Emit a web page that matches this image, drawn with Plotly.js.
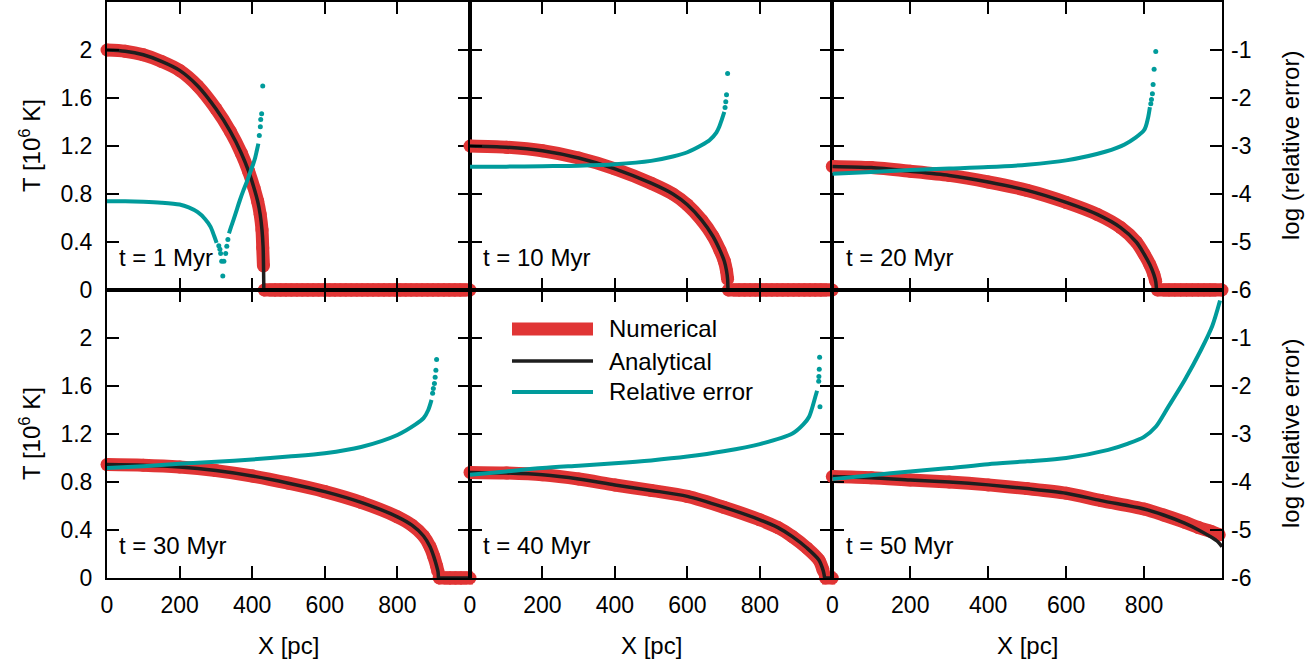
<!DOCTYPE html>
<html><head><meta charset="utf-8">
<script src="https://cdn.plot.ly/plotly-3.0.1.min.js"></script>
<style>html,body{margin:0;padding:0;background:#fff}#chart{width:1315px;height:666px}</style>
</head><body><div id="chart"></div>
<script>
// ---------------- data ----------------
const timeLabels = ['t = 1 Myr','t = 10 Myr','t = 20 Myr','t = 30 Myr','t = 40 Myr','t = 50 Myr'];
const xTicks = [0,200,400,600,800];
const tTicks = [0,0.4,0.8,1.2,1.6,2];
const tTickText = ['0','0.4','0.8','1.2','1.6','2'];
const eTicks = [-6,-5,-4,-3,-2,-1];

// panel 1 : t = 1 Myr   (null separates the profile from the flat floor)
const xA1 = [0,50,100,150,200,250,300,340,370,390,405,415,422,427,430,432,null,432,1000];
const tA1 = [2.00,1.99,1.96,1.905,1.83,1.70,1.51,1.32,1.14,0.99,0.85,0.74,0.63,0.50,0.36,0,null,0,0];
const xN1 = [0,50,100,150,200,250,300,340,370,390,405,415,422,427,429,431,null,433,448,463,478,493,508,523,538,553,568,583,598,613,628,643,658,673,688,703,718,733,748,763,778,793,808,823,838,853,868,883,898,913,928,943,958,973,988,1000];
const tN1 = [2.00,1.99,1.96,1.905,1.83,1.70,1.51,1.32,1.14,0.99,0.85,0.74,0.63,0.50,0.35,0.20,null,0,0,0,0,0,0,0,0,0,0,0,0,0,0,0,0,0,0,0,0,0,0,0,0,0,0,0,0,0,0,0,0,0,0,0,0,0,0,0];
const xE1 = [0,50,100,150,200,225,250,270,285,295,302,null,336,342,348,357,366,375,385,394,403,408,412,417];
const eE1 = [-4.15,-4.15,-4.16,-4.18,-4.22,-4.28,-4.38,-4.52,-4.68,-4.87,-5.02,null,-4.82,-4.68,-4.55,-4.34,-4.13,-3.94,-3.75,-3.56,-3.37,-3.25,-3.12,-2.95];
const xD1 = [308,311,313,316,319,322,327,330,333,419.6,422.4,423.5,426,429];
const eD1 = [-5.08,-5.15,-5.24,-5.40,-5.71,-5.40,-5.24,-5.09,-4.95,-2.78,-2.60,-2.45,-2.33,-1.75];

// panel 2 : t = 10 Myr
const xA2 = [0,100,200,300,400,500,560,600,640,670,690,702,708,711,712,null,712,1000];
const tA2 = [1.20,1.19,1.16,1.10,1.01,0.89,0.80,0.71,0.58,0.45,0.33,0.24,0.16,0.09,0,null,0,0];
const xN2 = [0,100,200,300,400,500,560,600,640,670,690,702,708,711,null,713,728,743,758,773,788,803,818,833,848,863,878,893,908,923,938,953,968,983,1000];
const tN2 = [1.20,1.19,1.16,1.10,1.01,0.89,0.80,0.71,0.58,0.45,0.33,0.24,0.16,0.09,null,0,0,0,0,0,0,0,0,0,0,0,0,0,0,0,0,0,0,0,0];
const xE2 = [0,100,200,300,400,500,560,600,640,661,680,688,695,702];
const eE2 = [-3.43,-3.43,-3.42,-3.41,-3.38,-3.31,-3.22,-3.13,-2.98,-2.88,-2.72,-2.60,-2.45,-2.29];
const xD2 = [704,706,708,711];
const eD2 = [-2.20,-2.08,-1.93,-1.49];

// panel 3 : t = 20 Myr
const xA3 = [0,100,200,300,400,500,600,680,740,780,800,815,825,830,832,null,832,1000];
const tA3 = [1.03,1.02,0.99,0.955,0.90,0.83,0.73,0.63,0.52,0.40,0.30,0.21,0.13,0.07,0,null,0,0];
const xN3 = [0,100,200,300,400,500,600,680,740,780,800,815,825,830,null,834,849,864,879,894,909,924,939,954,969,984,1000];
const tN3 = [1.03,1.02,0.99,0.955,0.90,0.83,0.73,0.63,0.52,0.40,0.30,0.21,0.13,0.07,null,0,0,0,0,0,0,0,0,0,0,0,0];
const xE3 = [0,100,200,300,400,500,600,700,750,800,810,815];
const eE3 = [-3.58,-3.54,-3.50,-3.47,-3.44,-3.39,-3.30,-3.12,-2.97,-2.67,-2.42,-2.19];
const xD3 = [817.3,819,821.4,823.2,825.8,830];
const eD3 = [-2.12,-2.03,-1.91,-1.72,-1.40,-1.03];

// panel 4 : t = 30 Myr
const xA4 = [0,100,200,300,400,500,600,700,800,840,872,890,900,908,912,913,null,913,1000];
const tA4 = [0.945,0.94,0.925,0.895,0.85,0.79,0.72,0.63,0.51,0.44,0.35,0.26,0.18,0.10,0.05,0,null,0,0];
const xN4 = [0,100,200,300,400,500,600,700,800,840,872,890,900,908,912,null,915,930,945,960,975,990,1000];
const tN4 = [0.945,0.94,0.925,0.895,0.85,0.79,0.72,0.63,0.51,0.44,0.35,0.26,0.18,0.10,0.05,null,0,0,0,0,0,0,0];
const xE4 = [0,100,200,300,400,500,600,700,800,850,872,885,894];
const eE4 = [-3.71,-3.67,-3.62,-3.58,-3.53,-3.47,-3.40,-3.27,-3.02,-2.80,-2.67,-2.50,-2.29];
const xD4 = [897,899,902,904,906,908];
const eD4 = [-2.15,-2.05,-1.95,-1.82,-1.67,-1.45];

// panel 5 : t = 40 Myr
const xA5 = [0,100,200,300,400,500,600,700,800,850,890,930,963,975,979,null,979,1000];
const tA5 = [0.88,0.875,0.86,0.825,0.775,0.73,0.68,0.59,0.485,0.42,0.345,0.25,0.15,0.06,0,null,0,0];
const xN5 = [0,100,200,300,400,500,600,700,800,850,890,930,963,975,null,981,990,1000];
const tN5 = [0.88,0.875,0.86,0.825,0.775,0.73,0.68,0.59,0.485,0.42,0.345,0.25,0.15,0.06,null,0,0,0];
const xE5 = [0,100,200,300,400,500,600,700,800,890,920,936,953,958];
const eE5 = [-3.85,-3.78,-3.71,-3.66,-3.61,-3.55,-3.47,-3.36,-3.21,-2.99,-2.80,-2.64,-2.23,-2.10];
const xD5 = [962.5,963,964,965,966];
const eD5 = [-1.90,-1.80,-1.65,-1.40,-2.43];

// panel 6 : t = 50 Myr
const xA6 = [0,100,200,300,400,500,600,690,800,850,904,940,970,990,1000];
const tA6 = [0.845,0.835,0.817,0.80,0.776,0.745,0.707,0.645,0.575,0.525,0.457,0.40,0.345,0.30,0.26];
const xN6 = [0,100,200,300,400,500,600,690,800,850,904,940,970,993];
const tN6 = [0.845,0.835,0.817,0.80,0.776,0.745,0.707,0.645,0.575,0.525,0.465,0.42,0.39,0.36];
const xE6 = [0,100,200,300,400,500,600,708,759,800,830,861,904,946,975,995];
const eE6 = [-3.94,-3.86,-3.78,-3.71,-3.63,-3.57,-3.50,-3.33,-3.20,-3.06,-2.85,-2.45,-1.88,-1.25,-0.75,-0.22];
const xD6 = [];
const eD6 = [];

const legendNames = ['Numerical','Analytical','Relative error'];

// ---------------- drawing ----------------
const RED = '#e03535', BLACK = '#1e1e1e', TEAL = '#009b9b';
const FAM = '"Liberation Sans", Arial, Helvetica, sans-serif';
const W = 1315, H = 666;
const M = {l:107, r:93, t:2, b:88};
const PW = W - M.l - M.r, PH = H - M.t - M.b;
const px = v => (v - M.l) / PW;           // pixel -> paper x
const py = v => (H - M.b - v) / PH;        // pixel -> paper y

const panels = [
  {xA:xA1,tA:tA1,xN:xN1,tN:tN1,xE:xE1,eE:eE1,xD:xD1,eD:eD1},
  {xA:xA2,tA:tA2,xN:xN2,tN:tN2,xE:xE2,eE:eE2,xD:xD2,eD:eD2},
  {xA:xA3,tA:tA3,xN:xN3,tN:tN3,xE:xE3,eE:eE3,xD:xD3,eD:eD3},
  {xA:xA4,tA:tA4,xN:xN4,tN:tN4,xE:xE4,eE:eE4,xD:xD4,eD:eD4},
  {xA:xA5,tA:tA5,xN:xN5,tN:tN5,xE:xE5,eE:eE5,xD:xD5,eD:eD5},
  {xA:xA6,tA:tA6,xN:xN6,tN:tN6,xE:xE6,eE:eE6,xD:xD6,eD:eD6}
];

const colEdges = [107, 470, 832.3, 1222];
const rowEdges = [2, 290, 578];
const xDom = [[px(colEdges[0]),px(colEdges[1])],[px(colEdges[1]),px(colEdges[2])],[px(colEdges[2]),px(colEdges[3])]];
const yDom = [[py(rowEdges[1]),py(rowEdges[0])],[py(rowEdges[2]),py(rowEdges[1])]];

const tickFont = {family:FAM, size:23, color:'#000'};
const textFont = {family:FAM, size:24, color:'#000'};
const traces = [];
const layout = {
  width:W, height:H, margin:M, paper_bgcolor:'#fff', plot_bgcolor:'rgba(0,0,0,0)',
  showlegend:false, font:{family:FAM, size:23, color:'#000'},
  annotations:[], shapes:[]
};

// floor points (T = 0) between the front and the last cell are drawn as squares so the band stays flat
function floorSymbols(xs, ts) {
  return ts.map((t, k) => {
    if (t !== 0) return 'circle';
    const prevNull = k === 0 || ts[k-1] === null;
    const last = k === ts.length - 1;
    return (prevNull || last) ? 'circle' : 'square';
  });
}

panels.forEach((p,i) => {
  const n = i+1, row = i<3 ? 0 : 1, col = i%3;
  const xk = n===1 ? 'x' : 'x'+n, yk = n===1 ? 'y' : 'y'+n, ek = 'y'+(n+6);
  const common = {xaxis:xk, showlegend:false, hoverinfo:'skip'};
  traces.push(Object.assign({x:p.xN, y:p.tN, yaxis:yk, mode:'lines+markers', name:legendNames[0],
    line:{color:RED,width:13,shape:'spline',smoothing:0.8},
    marker:{color:RED,size:13,symbol:floorSymbols(p.xN,p.tN),line:{width:0}},
    cliponaxis:false, connectgaps:false}, common));
  traces.push(Object.assign({x:p.xA, y:p.tA, yaxis:yk, mode:'lines', name:legendNames[1],
    line:{color:BLACK,width:3.5,shape:'spline',smoothing:0.8}, connectgaps:false}, common));
  traces.push(Object.assign({x:p.xE, y:p.eE, yaxis:ek, mode:'lines', name:legendNames[2],
    line:{color:TEAL,width:4,shape:'spline',smoothing:0.8}, connectgaps:false}, common));
  if (p.xD.length) traces.push(Object.assign({x:p.xD, y:p.eD, yaxis:ek, mode:'markers', name:legendNames[2],
    marker:{color:TEAL,size:5,line:{width:0}}, cliponaxis:false}, common));

  layout['xaxis'+(n===1?'':n)] = {
    domain:xDom[col], anchor:yk, range:[0,1000], tickvals:xTicks, ticktext:xTicks.map(String),
    ticks:'inside', ticklen:12, tickwidth:2, tickcolor:'#000',
    showline:true, linewidth:2, linecolor:'#000', mirror:'ticks',
    showgrid:false, zeroline:false, showticklabels: row===1, tickfont:tickFont,
    ticklabelstandoff:5, fixedrange:true
  };
  layout['yaxis'+(n===1?'':n)] = {
    domain:yDom[row], anchor:xk, range:[0,2.4], tickvals:tTicks, ticktext:tTickText,
    ticks:'inside', ticklen:12, tickwidth:2, tickcolor:'#000',
    showline:true, linewidth:2, linecolor:'#000', mirror:'ticks',
    showgrid:false, zeroline:false, showticklabels: col===0, tickfont:tickFont,
    ticklabelstandoff:8, fixedrange:true
  };
  const showRight = col===2;
  layout['yaxis'+(n+6)] = {
    overlaying:yk, anchor:xk, side:'right', range:[-6,0], tickvals:eTicks, ticktext:eTicks.map(String),
    ticks: showRight ? 'inside' : '', ticklen:12, tickwidth:2, tickcolor:'#000', showline:false,
    showgrid:false, zeroline:false, showticklabels:showRight, tickfont:tickFont,
    ticklabelstandoff:8, fixedrange:true
  };

  // time label
  const lx = [117, 481, 844][col], ly = [257, 545][row];
  layout.annotations.push({text:timeLabels[i], xref:'paper', yref:'paper', x:px(lx), y:py(ly),
    xanchor:'left', yanchor:'middle', showarrow:false, font:textFont});
});

// axis titles
[288.5, 651, 1027].forEach(cx => layout.annotations.push({text:'X [pc]', xref:'paper', yref:'paper',
  x:px(cx), y:py(645), xanchor:'center', yanchor:'middle', showarrow:false, font:textFont}));
[146, 434].forEach(cy => {
  layout.annotations.push({text:'T [10<sup>6</sup> K]', xref:'paper', yref:'paper', x:px(30), y:py(cy),
    xanchor:'center', yanchor:'middle', textangle:-90, showarrow:false, font:textFont});
  layout.annotations.push({text:'log (relative error)', xref:'paper', yref:'paper', x:px(1290), y:py(cy),
    xanchor:'center', yanchor:'middle', textangle:-90, showarrow:false, font:textFont});
});

// legend (drawn in the lower middle panel)
const legY = [329, 361, 392];
const legStyle = [{color:RED,width:13},{color:BLACK,width:3.5},{color:TEAL,width:4}];
legendNames.forEach((nm,k) => {
  layout.shapes.push({type:'line', xref:'paper', yref:'paper', x0:px(512), x1:px(593), y0:py(legY[k]), y1:py(legY[k]), line:legStyle[k]});
  layout.annotations.push({text:nm, xref:'paper', yref:'paper', x:px(607), y:py(legY[k]),
    xanchor:'left', yanchor:'middle', showarrow:false, font:textFont});
});

Plotly.newPlot('chart', traces, layout, {staticPlot:true, displayModeBar:false});
</script>
</body></html>
